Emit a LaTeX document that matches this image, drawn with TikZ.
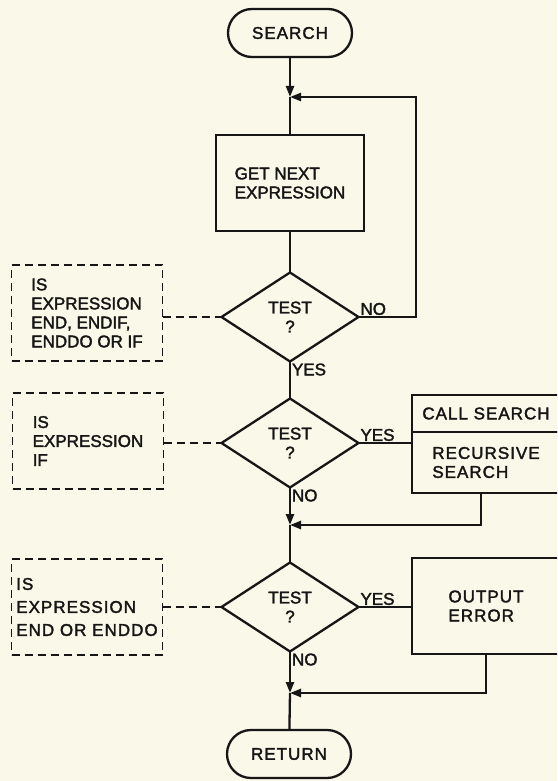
\documentclass[tikz,border=0pt]{standalone}
\usepackage{fontspec}
\setmainfont[FakeBold=2]{Liberation Sans}
\newfontfamily\widefont[LetterSpace=6,FakeBold=2]{Liberation Sans}
\usetikzlibrary{shapes.geometric,arrows.meta,positioning}
\definecolor{paper}{RGB}{250,248,233}
\definecolor{ink}{RGB}{22,22,22}

\begin{document}
\begin{tikzpicture}[x=1pt, y=-1pt,
	every node/.style={font=\fontsize{17}{19}\selectfont, text=ink, inner sep=0pt, outer sep=0pt},
	flow/.style={line width=2.3pt, draw=ink},
	flowarrow/.style={flow, -{Triangle[length=11pt,width=8pt]}},
	note/.style={line width=1.9pt, draw=ink, dash pattern=on 8pt off 5pt},
	terminal/.style={flow, rounded corners=24pt, minimum width=124pt, minimum height=48pt, font=\widefont\fontsize{17}{19}\selectfont},
	process/.style={flow, minimum width=148pt, minimum height=96pt, align=left},
	decision/.style={flow, diamond, aspect=1.54, minimum width=137pt, minimum height=89pt, align=center},
	comment/.style={note, minimum width=151pt, minimum height=96pt, align=left},
	answer/.style={inner sep=2pt}]
	\clip (0,0) rectangle (557,781);
	\fill[paper] (0,0) rectangle (557,781);

	\node[terminal] (search) at (290,33) {SEARCH};
	\coordinate (j1) at (290,97);
	\node[process] (getnext) at (290,183) {GET NEXT\\EXPRESSION};
	\node[decision] (test1) at (290,317) {TEST\\?};
	\coordinate (c1) at (416,317);
	\node[decision] (test2) at (290,443) {TEST\\?};
	\coordinate (j2) at (290,525);
	\node[decision] (test3) at (290,607) {TEST\\?};
	\coordinate (j3) at (290,693);
	\node[terminal] (return) at (289,754) {RETURN};

	\node[process, minimum height=37pt, font=\widefont\fontsize{17}{19}\selectfont] (callsearch) at (486,413.5) {CALL SEARCH};
	\node[process, minimum height=61pt, below=0pt of callsearch, font=\widefont\fontsize{17}{19}\selectfont] (recursive) {RECURSIVE\\SEARCH};
	\node[process, font=\widefont\fontsize{17}{19}\selectfont] (output) at (486,606) {OUTPUT\\ERROR};

	\node[comment] (cond1) at (87,313) {IS\\EXPRESSION\\END, ENDIF,\\ENDDO OR IF};
	\node[comment] (cond2) at (88,441) {IS\\EXPRESSION\\IF};
	\node[comment, font=\widefont\fontsize{17}{19}\selectfont] (cond3) at (87,607) {IS\\[4pt]EXPRESSION\\[4pt]END OR ENDDO};

	\draw[flowarrow] (search) -- (j1);
	\draw[flow] (j1) -- (getnext);
	\draw[flow] (getnext) -- (test1);
	\draw[flowarrow] (test1.east) node[answer, above right] (no1) {NO} -- (c1) |- (j1);
	\draw[flow] (test1.south) node[answer, below right] (yes1) {YES} -- (test2.north);
	\draw[flow] (test2.east) node[answer, above right] (yes2) {YES} -- (callsearch.west |- test2.east);
	\draw[flowarrow] (test2.south) node[answer, below right] (no2) {NO} -- (j2);
	\draw[flowarrow] ([xshift=-5pt]recursive.south) |- (j2);
	\draw[flow] (j2) -- (test3);
	\draw[flow] (test3.east) node[answer, above right] (yes3) {YES} -- (output.west |- test3.east);
	\draw[flowarrow] (test3.south) node[answer, below right] (no3) {NO} -- (j3);
	\draw[flowarrow] (output.south) |- (j3);
	\draw[flow] (j3) -- (return);

	\draw[note] (cond1.east |- test1.west) -- (test1.west);
	\draw[note] (cond2.east |- test2.west) -- (test2.west);
	\draw[note] (cond3.east |- test3.west) -- (test3.west);
\end{tikzpicture}
\end{document}
